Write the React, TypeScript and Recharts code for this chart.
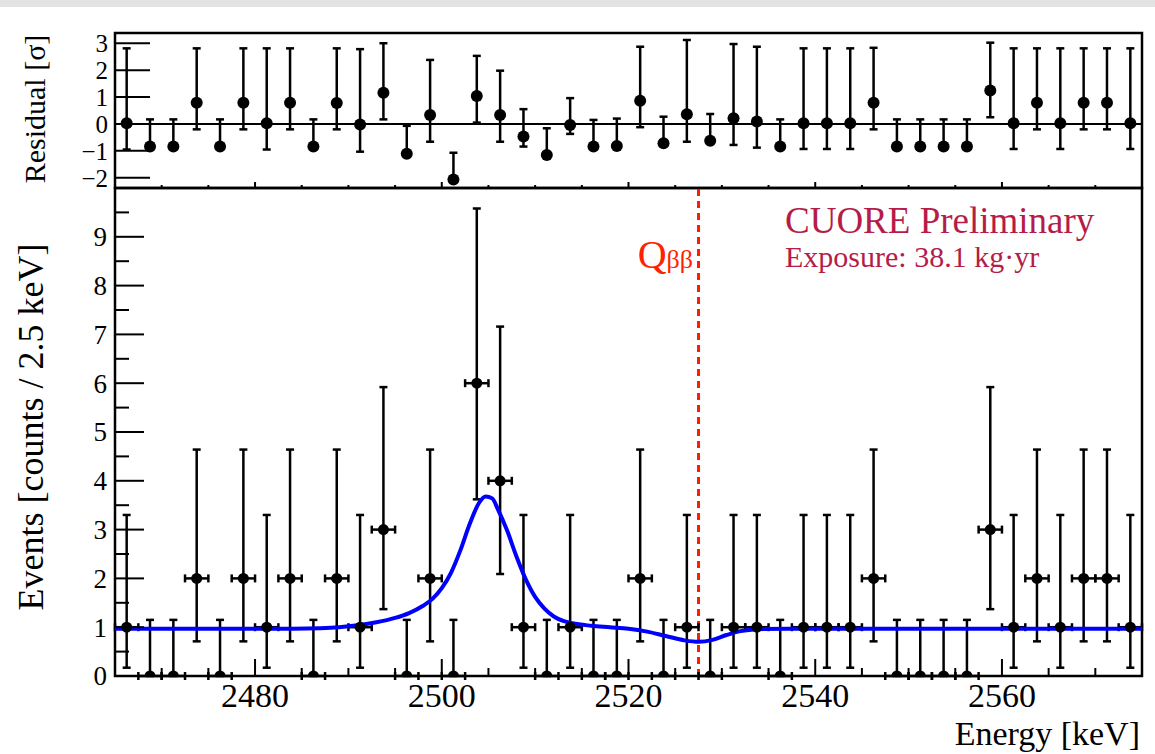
import React from "react";
import {
  ComposedChart,
  ErrorBar,
  Line,
  ReferenceArea,
  ReferenceLine,
  Scatter,
  XAxis,
  YAxis,
} from "recharts";

// 2.5 keV bins, centres
const binCenters = [
  2466.25, 2468.75, 2471.25, 2473.75, 2476.25, 2478.75, 2481.25, 2483.75, 2486.25, 2488.75,
  2491.25, 2493.75, 2496.25, 2498.75, 2501.25, 2503.75, 2506.25, 2508.75, 2511.25, 2513.75,
  2516.25, 2518.75, 2521.25, 2523.75, 2526.25, 2528.75, 2531.25, 2533.75, 2536.25, 2538.75,
  2541.25, 2543.75, 2546.25, 2548.75, 2551.25, 2553.75, 2556.25, 2558.75, 2561.25, 2563.75,
  2566.25, 2568.75, 2571.25, 2573.75,
];
const binHalfWidth = 1.25;

const counts = [
  1, 0, 0, 2, 0, 2, 1, 2, 0, 2,
  1, 3, 0, 2, 0, 6, 4, 1, 0, 1,
  0, 0, 2, 0, 1, 0, 1, 1, 0, 1,
  1, 1, 2, 0, 0, 0, 0, 3, 1, 2,
  1, 2, 2, 1,
];

// asymmetric poisson error bars, by count
const poissonCounts = [0, 1, 2, 3, 4, 6];
const poissonLow = [0, 0.83, 1.29, 1.63, 1.91, 2.38];
const poissonHigh = [1.15, 2.3, 2.64, 2.92, 3.16, 3.58];

const resValue = [
  0.03, -0.84, -0.84, 0.79, -0.84, 0.79, 0.03, 0.79, -0.84, 0.78,
  -0.02, 1.16, -1.11, 0.33, -2.06, 1.04, 0.33, -0.47, -1.15, -0.04,
  -0.84, -0.82, 0.86, -0.72, 0.36, -0.62, 0.21, 0.09, -0.84, 0.03,
  0.03, 0.03, 0.79, -0.84, -0.84, -0.84, -0.84, 1.24, 0.03, 0.79,
  0.03, 0.79, 0.79, 0.03,
];
const resLow = [
  0.98, 0, 0, 0.99, 0, 0.99, 0.98, 0.99, 0, 0.98,
  1.01, 0.99, 0, 0.99, 0, 0.99, 0.99, 0.37, 0, 0.33,
  0, 0, 0.98, 0, 1.02, 0, 0.99, 0.97, 0, 0.96,
  0.96, 0.96, 0.99, 0, 0, 0, 0, 0.99, 0.96, 0.99,
  0.96, 0.99, 0.99, 0.96,
];
const resHigh = [
  2.78, 1.01, 1.01, 2.02, 1.01, 2.02, 2.78, 2.02, 1.01, 2.03,
  2.8, 1.84, 1.04, 2.05, 0.99, 1.49, 1.65, 1.02, 0.99, 1.0,
  0.99, 1.02, 2.01, 0.99, 2.76, 0.99, 2.76, 2.78, 1.01, 2.78,
  2.78, 2.78, 2.04, 1.01, 1.01, 1.01, 1.01, 1.78, 2.78, 2.02,
  2.78, 2.02, 2.02, 2.78,
];

// fit curve
const fitEnergy = [
  2465, 2470, 2475, 2480, 2484, 2487, 2489, 2491, 2493, 2495,
  2496.5, 2498, 2499, 2500, 2501, 2502, 2503, 2504, 2504.7, 2505.4,
  2506, 2507, 2508, 2509, 2510, 2511, 2512, 2513, 2514, 2516,
  2518, 2520, 2522, 2524, 2526, 2527.5, 2529, 2530.5, 2532, 2534,
  2537, 2540, 2550, 2560, 2575,
];
const fitValue = [
  0.97, 0.97, 0.97, 0.97, 0.97, 0.98, 1.0, 1.04, 1.1, 1.19,
  1.29, 1.44, 1.58, 1.8, 2.12, 2.58, 3.12, 3.55, 3.68, 3.64,
  3.42, 2.98, 2.45, 1.98, 1.62, 1.38, 1.22, 1.13, 1.08, 1.03,
  1.0, 0.97, 0.91, 0.82, 0.73, 0.7, 0.74, 0.84, 0.92, 0.96,
  0.97, 0.97, 0.97, 0.97, 0.97,
];

const qbb = 2527.5;

const xTicks = [
  2470, 2475, 2480, 2485, 2490, 2495, 2500, 2505, 2510, 2515, 2520,
  2525, 2530, 2535, 2540, 2545, 2550, 2555, 2560, 2565, 2570,
];
const xLabels = [2480, 2500, 2520, 2540, 2560];
const mainYTicks = [
  0, 0.5, 1, 1.5, 2, 2.5, 3, 3.5, 4, 4.5, 5, 5.5, 6, 6.5, 7, 7.5, 8, 8.5, 9, 9.5,
];
const resYTicks = [-2, -1, 0, 1, 2, 3];

const xDomain = [2465, 2575];
const mainYDomain = [0, 10];
const resYDomain = [-2.38, 3.38];

const font = "'Liberation Serif', 'Times New Roman', serif";
const serif = { fontFamily: font };
const crimson = "#b51c48";

const mainData = binCenters.map((e, i) => {
  const k = poissonCounts.indexOf(counts[i]);
  return {
    e,
    v: counts[i],
    ey: [poissonLow[k], poissonHigh[k]],
    ex: [binHalfWidth, binHalfWidth],
  };
});

const residualData = binCenters.map((e, i) => ({
  e,
  v: resValue[i],
  ey: [resLow[i], resHigh[i]],
}));

const fitData = fitEnergy.map((e, i) => ({ e, v: fitValue[i] }));

const dot = (r: number) => (props: any) =>
  <circle cx={props.cx} cy={props.cy} r={r} fill="#000" />;

function mainXTick(props: any) {
  const { x, y, payload } = props;
  const major = xLabels.includes(payload.value);
  return (
    <g>
      <line x1={x} y1={y} x2={x} y2={y - (major ? 17 : 8)} stroke="#000" strokeWidth={2} />
      {major && (
        <text x={x} y={y + 31} textAnchor="middle" fontSize={34} style={serif} fill="#000">
          {payload.value}
        </text>
      )}
    </g>
  );
}

function resXTick(props: any) {
  const { x, y, payload } = props;
  const major = xLabels.includes(payload.value);
  return (
    <line x1={x} y1={y} x2={x} y2={y - (major ? 6 : 3)} stroke="#000" strokeWidth={2} />
  );
}

function mainYTick(props: any) {
  const { x, y, payload } = props;
  const v = payload.value as number;
  const major = Number.isInteger(v);
  return (
    <g>
      <line x1={x} y1={y} x2={x + (major ? 29 : 14)} y2={y} stroke="#000" strokeWidth={2} />
      {major && (
        <text x={x - 8} y={y} dy="0.35em" textAnchor="end" fontSize={27} style={serif} fill="#000">
          {v}
        </text>
      )}
    </g>
  );
}

function resYTick(props: any) {
  const { x, y, payload } = props;
  const v = payload.value as number;
  const label = v < 0 ? "\u2212" + Math.abs(v) : String(v);
  return (
    <g>
      <line x1={x} y1={y} x2={x + 35} y2={y} stroke="#000" strokeWidth={2} />
      <text x={x - 7} y={y} dy="0.35em" textAnchor="end" fontSize={25} style={serif} fill="#000">
        {label}
      </text>
    </g>
  );
}

export default function App() {
  return (
    <div
      style={{
        position: "absolute",
        left: 0,
        top: 0,
        width: 1155,
        height: 754,
        background: "#fff",
        overflow: "hidden",
      }}
    >
      <div style={{ position: "absolute", left: 0, top: 0, width: 1155, height: 7, background: "#e3e3e3" }} />

      {/* residual pad */}
      <div style={{ position: "absolute", left: 0, top: 0 }}>
        <ComposedChart width={1155} height={200} margin={{ top: 33, right: 13, bottom: 0, left: 0 }}>
          <XAxis
            dataKey="e"
            type="number"
            domain={xDomain}
            allowDataOverflow
            ticks={xTicks}
            interval={0}
            tickSize={0}
            tickMargin={0}
            axisLine={false}
            tickLine={false}
            tick={resXTick}
            height={12}
          />
          <YAxis
            dataKey="v"
            type="number"
            domain={resYDomain}
            allowDataOverflow
            ticks={resYTicks}
            interval={0}
            tickSize={0}
            tickMargin={0}
            axisLine={false}
            tickLine={false}
            tick={resYTick}
            width={115}
          />
          <ReferenceLine y={0} stroke="#000" strokeWidth={2} />
          <Scatter data={residualData} isAnimationActive={false} shape={dot(6)}>
            <ErrorBar dataKey="ey" direction="y" width={4} stroke="#000" strokeWidth={2.5} isAnimationActive={false} />
          </Scatter>
          <ReferenceArea
            x1={xDomain[0]}
            x2={xDomain[1]}
            y1={resYDomain[0]}
            y2={resYDomain[1]}
            fill="none"
            fillOpacity={0}
            stroke="#000"
            strokeWidth={2.5}
            ifOverflow="visible"
          />
        </ComposedChart>
      </div>

      {/* main pad */}
      <div style={{ position: "absolute", left: 0, top: 150 }}>
        <ComposedChart width={1155} height={604} margin={{ top: 38, right: 13, bottom: 0, left: 0 }}>
          <XAxis
            dataKey="e"
            type="number"
            domain={xDomain}
            allowDataOverflow
            ticks={xTicks}
            interval={0}
            tickSize={0}
            tickMargin={0}
            axisLine={false}
            tickLine={false}
            tick={mainXTick}
            height={78}
          />
          <YAxis
            dataKey="v"
            type="number"
            domain={mainYDomain}
            allowDataOverflow
            ticks={mainYTicks}
            interval={0}
            tickSize={0}
            tickMargin={0}
            axisLine={false}
            tickLine={false}
            tick={mainYTick}
            width={115}
          />
          <ReferenceLine x={qbb} stroke="#ff1a00" strokeWidth={3} strokeDasharray="7 5" />
          <Scatter data={mainData} isAnimationActive={false} shape={dot(5.5)}>
            <ErrorBar dataKey="ey" direction="y" width={4} stroke="#000" strokeWidth={2.5} isAnimationActive={false} />
            <ErrorBar dataKey="ex" direction="x" width={4} stroke="#000" strokeWidth={2.5} isAnimationActive={false} />
          </Scatter>
          <Line
            data={fitData}
            dataKey="v"
            type="monotone"
            stroke="#0000ff"
            strokeWidth={4}
            dot={false}
            activeDot={false}
            isAnimationActive={false}
          />
          <ReferenceArea
            x1={xDomain[0]}
            x2={xDomain[1]}
            y1={mainYDomain[0]}
            y2={mainYDomain[1]}
            fill="none"
            fillOpacity={0}
            stroke="#000"
            strokeWidth={2.5}
            ifOverflow="visible"
          />
        </ComposedChart>
      </div>

      {/* titles and annotations */}
      <svg
        width={1155}
        height={754}
        style={{ position: "absolute", left: 0, top: 0, pointerEvents: "none" }}
      >
        <text
          transform="translate(45,109) rotate(-90)"
          textAnchor="middle"
          fontSize={30}
          style={serif}
          fill="#000"
        >
          Residual [σ]
        </text>
        <text
          transform="translate(43,427) rotate(-90)"
          textAnchor="middle"
          fontSize={36}
          style={serif}
          fill="#000"
        >
          Events [counts / 2.5 keV]
        </text>
        <text x={1140} y={745} textAnchor="end" fontSize={34} style={serif} fill="#000">
          Energy [keV]
        </text>
        <text x={785} y={233} fontSize={37} style={serif} fill={crimson}>
          CUORE Preliminary
        </text>
        <text x={785} y={267} fontSize={30} style={serif} fill={crimson}>
          Exposure: 38.1 kg·yr
        </text>
        <text x={693} y={268} textAnchor="end" style={serif} fill="#ff2200">
          <tspan fontSize={40}>Q</tspan>
          <tspan fontSize={26}>ββ</tspan>
        </text>
      </svg>
    </div>
  );
}
